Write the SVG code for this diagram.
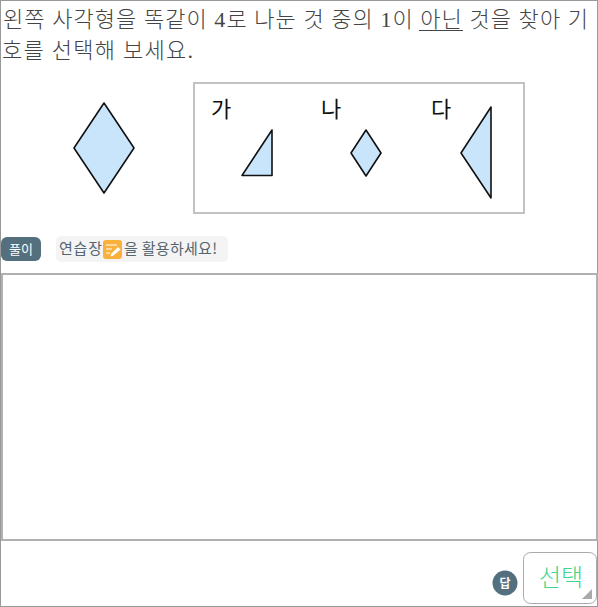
<svg xmlns="http://www.w3.org/2000/svg" width="598" height="607" viewBox="0 0 598 607">
<style>
.q{font-family:"Liberation Serif","Noto Sans CJK KR",sans-serif;font-size:22px;fill:#444;font-weight:300}
.n{font-family:"Noto Sans CJK KR",sans-serif;font-size:22px;fill:#111}
.s{fill:#c9e5fc;stroke:#111;stroke-width:1.6;stroke-linejoin:round}
.h{font-family:"Noto Sans CJK KR",sans-serif;font-size:15px;fill:#54666f}
.w{font-family:"Noto Sans CJK KR",sans-serif;font-size:13px;fill:#fff;text-anchor:middle}
</style>
<rect width="598" height="607" fill="#fff"/>
<rect x="0.5" y="0.5" width="597" height="606" fill="none" stroke="#999"/>
<g id="question">
<text class="q" x="3" y="27" textLength="585" lengthAdjust="spacing">왼쪽 사각형을 똑같이 4로 나눈 것 중의 1이 아닌 것을 찾아 기</text>
<text class="q" x="2" y="58" textLength="191" lengthAdjust="spacing">호를 선택해 보세요.</text>
<line x1="419" y1="30.500" x2="463" y2="30.500" stroke="#444" stroke-width="1"/>
</g>
<g id="shape-main"><polygon class="s" points="104,103 134,148 104,193 74,148"/></g>
<g id="choices">
<rect x="194" y="83" width="330" height="130" fill="#fff" stroke="#c2c2c2" stroke-width="2"/>
<g id="choice-ga"><text class="n" x="211" y="117">가</text><polygon class="s" points="272,130 272,175.500 242,175.500"/></g>
<g id="choice-na"><text class="n" x="321" y="117">나</text><polygon class="s" points="366,130 381,153 366,176 351,153"/></g>
<g id="choice-da"><text class="n" x="431" y="117">다</text><polygon class="s" points="491,107 491,198 461,153"/></g>
</g>
<g id="hint">
<rect x="1" y="237" width="40" height="24" rx="6" fill="#54707e"/>
<text class="w" x="21" y="254">풀이</text>
<rect x="56" y="236" width="172" height="26" rx="5" fill="#f4f4f5"/>
<text class="h" x="59" y="254" textLength="43">연습장</text>
<rect x="103" y="240" width="19" height="19" rx="3" fill="#fbb03b"/>
<path d="M106 245h11M106 249h6M106 253h4" stroke="#fff" stroke-width="1.200" fill="none"/>
<path d="M111 254l7-7 2.500 2.500-7 6-3 1z" fill="#fff"/>
<text class="h" x="124" y="254" textLength="93">을 활용하세요!</text>
</g>
<g id="workspace"><rect x="2" y="274" width="595" height="266" fill="#fff" stroke="#b0b0b0" stroke-width="2"/></g>
<g id="answer">
<circle cx="505" cy="583" r="12.500" fill="#54707e"/>
<text class="w" x="505" y="588" font-weight="700" style="font-size:12px">답</text>
<rect x="523.500" y="552.500" width="73" height="51" rx="7" fill="#fff" stroke="#aaa"/>
<text x="561" y="586" text-anchor="middle" style="font-family:'Noto Sans CJK KR',sans-serif;font-size:24px;font-weight:300;fill:#3dd68c">선택</text>
<polygon points="592,589 592,599 582,599" fill="#aaa"/>
</g>
</svg>
